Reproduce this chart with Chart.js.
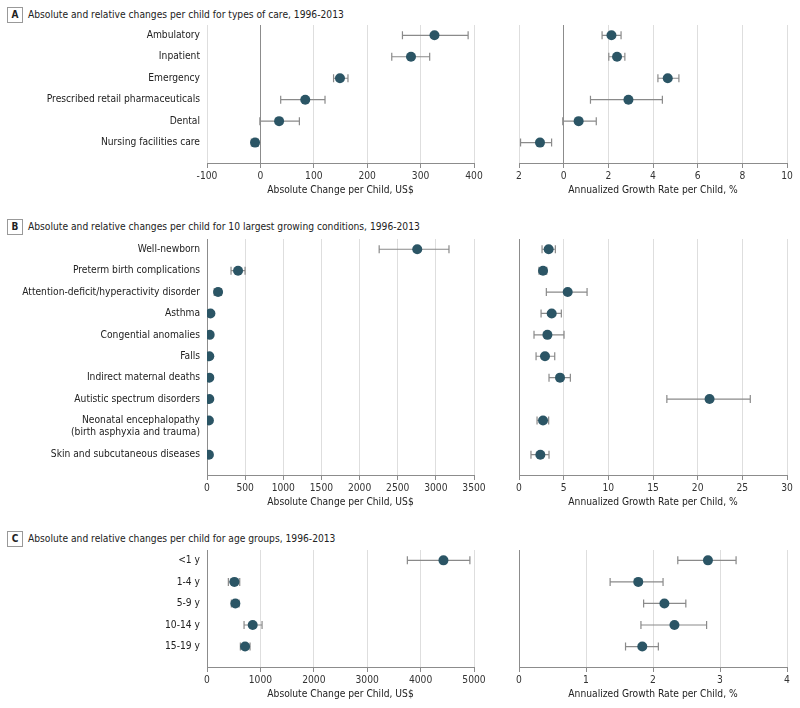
<!DOCTYPE html>
<html>
<head>
<meta charset="utf-8">
<script src="https://cdn.jsdelivr.net/npm/chart.js@4.4.0/dist/chart.umd.min.js"></script>
<style>
  body { margin: 0; background: #fff; }
  #wrap { position: relative; width: 800px; height: 708px; overflow: hidden;
          font-family: 'DejaVu Sans Condensed', 'Liberation Sans Narrow', sans-serif; color: #222; }
  .head { position: absolute; left: 7px; font-size: 10.2px; height: 16px; line-height: 16px; white-space: nowrap; }
  .head b { display: inline-block; box-sizing: border-box; width: 16px; height: 16px; border: 1px solid #999;
            text-align: center; line-height: 14px; margin-right: 5px; font-size: 10px; vertical-align: top; }
  canvas { position: absolute; }
</style>
</head>
<body>
<div id="wrap">
  <div class="head" style="top:7px"><b>A</b>Absolute and relative changes per child for types of care, 1996-2013</div>
  <div class="head" style="top:219px"><b>B</b>Absolute and relative changes per child for 10 largest growing conditions, 1996-2013</div>
  <div class="head" style="top:531px"><b>C</b>Absolute and relative changes per child for age groups, 1996-2013</div>
</div>
<script>
// Panel A - types of care
const careTypes = ['Ambulatory', 'Inpatient', 'Emergency', 'Prescribed retail pharmaceuticals', 'Dental', 'Nursing facilities care'];
const careAbs = [326, 282, 149, 84, 35, -10];
const careAbsLo = [266, 246, 137, 38, -1, -17];
const careAbsHi = [389, 317, 164, 121, 73, -4];
const careRate = [2.14, 2.39, 4.66, 2.90, 0.67, -1.06];
const careRateLo = [1.72, 2.02, 4.22, 1.20, -0.04, -1.93];
const careRateHi = [2.57, 2.74, 5.16, 4.42, 1.46, -0.54];
const careAbsTicks = [-100, 0, 100, 200, 300, 400];
const careRateTicks = [-2, 0, 2, 4, 6, 8, 10];
const careRateTickLabels = ['2', '0', '2', '4', '6', '8', '10'];

// Panel B - 10 largest growing conditions
const conditions = ['Well-newborn', 'Preterm birth complications', 'Attention-deficit/hyperactivity disorder',
  'Asthma', 'Congential anomalies', 'Falls', 'Indirect maternal deaths', 'Autistic spectrum disorders',
  ['Neonatal encephalopathy', '(birth asphyxia and trauma)'], 'Skin and subcutaneous diseases'];
const condAbs = [2756, 407, 145, 45, 35, 30, 30, 30, 25, 25];
const condAbsLo = [2257, 315, 95, 38, 28, 24, 25, 25, 20, 20];
const condAbsHi = [3172, 499, 190, 52, 42, 36, 35, 36, 30, 30];
const condRate = [3.32, 2.69, 5.45, 3.66, 3.18, 2.91, 4.59, 21.33, 2.69, 2.39];
const condRateLo = [2.58, 2.24, 3.06, 2.47, 1.68, 1.91, 3.36, 16.55, 2.02, 1.34];
const condRateHi = [4.07, 3.10, 7.62, 4.74, 5.04, 4.00, 5.75, 25.89, 3.32, 3.36];
const condAbsTicks = [0, 500, 1000, 1500, 2000, 2500, 3000, 3500];
const condRateTicks = [0, 5, 10, 15, 20, 25, 30];

// Panel C - age groups
const ageGroups = ['<1 y', '1-4 y', '5-9 y', '10-14 y', '15-19 y'];
const ageAbs = [4428, 513, 531, 856, 713];
const ageAbsLo = [3752, 400, 456, 694, 625];
const ageAbsHi = [4923, 613, 600, 1031, 806];
const ageRate = [2.82, 1.78, 2.17, 2.32, 1.84];
const ageRateLo = [2.37, 1.36, 1.86, 1.82, 1.59];
const ageRateHi = [3.24, 2.15, 2.49, 2.80, 2.08];
const ageAbsTicks = [0, 1000, 2000, 3000, 4000, 5000];
const ageRateTicks = [0, 1, 2, 3, 4];

const ABS_TITLE = 'Absolute Change per Child, US$';
const RATE_TITLE = 'Annualized Growth Rate per Child, %';

const DOT = '#2b5565';
const WHISKER = '#8a8a8a';
const AXIS = '#8c8c8c';
const GRID = '#dedede';
const LINE_STEP = 0.57; // offset of a second label line, in rows

Chart.defaults.font.family = "'DejaVu Sans Condensed', 'Liberation Sans Narrow', sans-serif";
Chart.defaults.font.size = 10.2;
Chart.defaults.color = '#222';

// row positions: one unit per row, a bit more after wrapped labels
function rowLayout(labels) {
  const rows = [], ticks = [];
  let pos = 0;
  labels.forEach(l => {
    const lines = Array.isArray(l) ? l : [l];
    rows.push(pos);
    lines.forEach((t, j) => ticks.push({ v: pos + j * LINE_STEP, label: t }));
    pos += 1 + (lines.length - 1) * 0.6;
  });
  return { rows, ticks, min: -0.48, max: rows[rows.length - 1] + 0.95 };
}

function whiskerPlugin(lo, hi, rows) {
  return {
    id: 'whiskers',
    beforeDatasetsDraw(chart) {
      const { ctx, scales: { x, y } } = chart;
      ctx.save();
      ctx.strokeStyle = WHISKER;
      ctx.lineWidth = 1.2;
      lo.forEach((l, i) => {
        const py = y.getPixelForValue(rows[i]);
        const x0 = x.getPixelForValue(l);
        const x1 = x.getPixelForValue(hi[i]);
        ctx.beginPath();
        ctx.moveTo(x0, py); ctx.lineTo(x1, py);
        ctx.moveTo(x0, py - 4); ctx.lineTo(x0, py + 4);
        ctx.moveTo(x1, py - 4); ctx.lineTo(x1, py + 4);
        ctx.stroke();
      });
      ctx.restore();
    }
  };
}

function makeChart(cfg) {
  const canvas = document.createElement('canvas');
  canvas.width = cfg.width;
  canvas.height = 5 + cfg.areaH + 35;
  canvas.style.left = cfg.left + 'px';
  canvas.style.top = (cfg.areaTop - 5) + 'px';
  document.getElementById('wrap').appendChild(canvas);

  const layout = rowLayout(cfg.labels);
  const tickLabels = cfg.tickLabels || cfg.ticks.map(String);

  new Chart(canvas, {
    type: 'scatter',
    data: {
      datasets: [{
        data: cfg.values.map((v, i) => ({ x: v, y: layout.rows[i] })),
        backgroundColor: DOT,
        borderWidth: 0,
        pointRadius: 5,
        pointHoverRadius: 5
      }]
    },
    plugins: [whiskerPlugin(cfg.lo, cfg.hi, layout.rows)],
    options: {
      responsive: false,
      animation: false,
      events: [],
      layout: { padding: { top: 5, bottom: 0, left: cfg.padLeft, right: cfg.padRight } },
      plugins: { legend: { display: false }, tooltip: { enabled: false } },
      scales: {
        x: {
          type: 'linear',
          min: cfg.ticks[0],
          max: cfg.ticks[cfg.ticks.length - 1],
          afterBuildTicks: s => { s.ticks = cfg.ticks.map(v => ({ value: v })); },
          afterFit: s => { s.height = 35; },
          ticks: {
            autoSkip: false, maxRotation: 0, padding: 2, color: '#333',
            callback: (v, i) => tickLabels[i]
          },
          grid: {
            color: c => (c.tick && c.tick.value === 0 ? AXIS : GRID),
            tickColor: AXIS, tickLength: 5, lineWidth: 1
          },
          border: { display: true, color: AXIS, width: 1 },
          title: { display: true, text: cfg.title, color: '#222', padding: { top: 0, bottom: 2 } }
        },
        y: {
          type: 'linear',
          reverse: true,
          display: cfg.showY,
          min: layout.min,
          max: layout.max,
          afterBuildTicks: s => { s.ticks = layout.ticks.map(t => ({ value: t.v })); },
          afterFit: s => {
            if (cfg.showY) s.width = 207;
            s.paddingTop = 0;
            s.paddingBottom = 0;
          },
          ticks: {
            autoSkip: false, padding: 7, color: '#222',
            callback: (v, i) => layout.ticks[i].label
          },
          grid: { display: false, drawTicks: false },
          border: { display: false }
        }
      }
    }
  });
}

const panels = [
  { labels: careTypes, areaTop: 25, areaH: 138,
    abs: [careAbs, careAbsLo, careAbsHi, careAbsTicks],
    rate: [careRate, careRateLo, careRateHi, careRateTicks, careRateTickLabels] },
  { labels: conditions, areaTop: 239, areaH: 236,
    abs: [condAbs, condAbsLo, condAbsHi, condAbsTicks],
    rate: [condRate, condRateLo, condRateHi, condRateTicks] },
  { labels: ageGroups, areaTop: 550, areaH: 117,
    abs: [ageAbs, ageAbsLo, ageAbsHi, ageAbsTicks],
    rate: [ageRate, ageRateLo, ageRateHi, ageRateTicks] }
];

panels.forEach(p => {
  makeChart({
    labels: p.labels, areaTop: p.areaTop, areaH: p.areaH,
    left: 0, width: 500, padLeft: 0, padRight: 26, showY: true,
    values: p.abs[0], lo: p.abs[1], hi: p.abs[2], ticks: p.abs[3], title: ABS_TITLE
  });
  makeChart({
    labels: p.labels, areaTop: p.areaTop, areaH: p.areaH,
    left: 480, width: 320, padLeft: 39, padRight: 13, showY: false,
    values: p.rate[0], lo: p.rate[1], hi: p.rate[2], ticks: p.rate[3], tickLabels: p.rate[4],
    title: RATE_TITLE
  });
});
</script>
</body>
</html>
